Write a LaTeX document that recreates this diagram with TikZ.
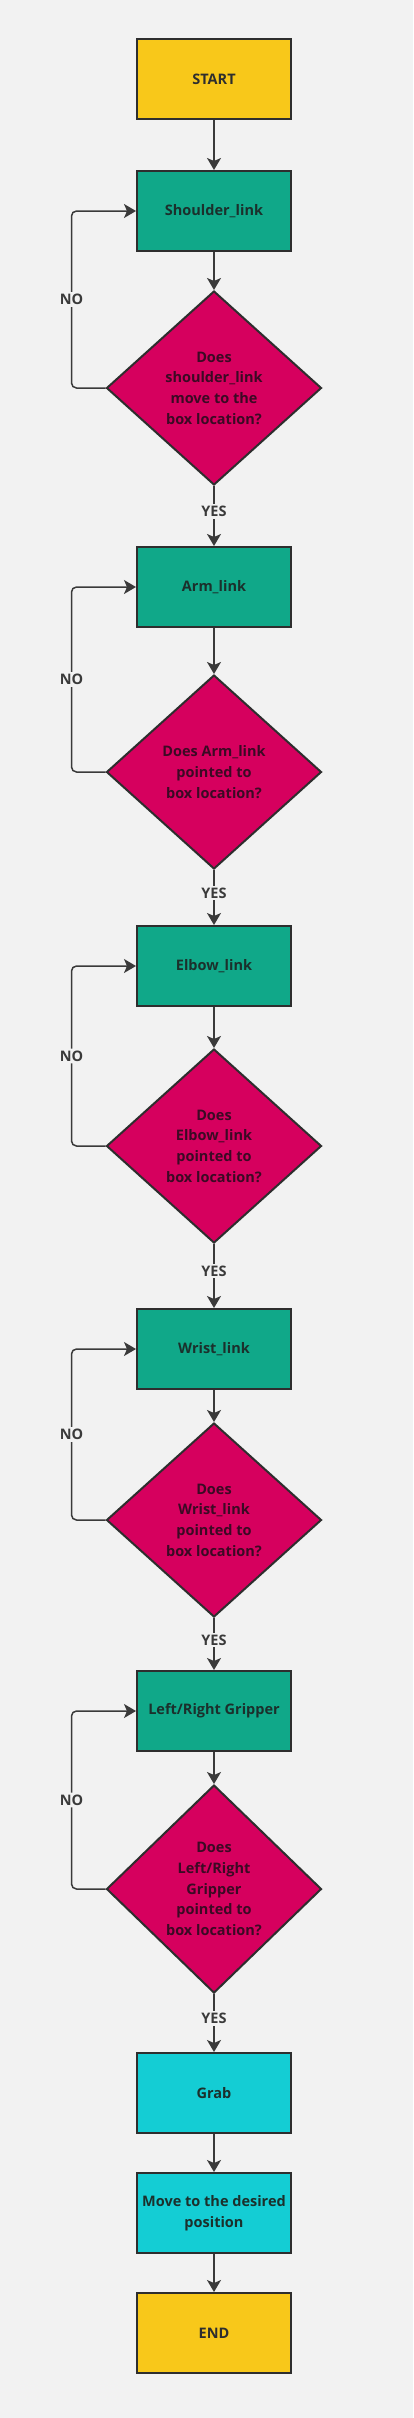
\documentclass[tikz,border=0pt]{standalone}
\usepackage{fontspec}
\setmainfont{Open Sans}
\usetikzlibrary{shapes.geometric,arrows.meta}
\definecolor{bgcol}{HTML}{F2F2F2}
\definecolor{edgecol}{HTML}{2E2E2E}
\definecolor{wirecol}{HTML}{3A3A3A}
\definecolor{termcol}{HTML}{F8C81A}
\definecolor{linkcol}{HTML}{10A889}
\definecolor{actcol}{HTML}{14CDD4}
\definecolor{testcol}{HTML}{D6005E}
\definecolor{testtxt}{HTML}{3B0A24}
\definecolor{linktxt}{HTML}{1B302C}
\begin{document}
\begin{tikzpicture}[x=1pt,y=-1pt,
  base/.style={draw=edgecol,line width=2pt,align=center,inner sep=0pt,
    font=\fontsize{14.5pt}{20.7pt}\selectfont\bfseries},
  term/.style={base,fill=termcol,text=edgecol,minimum width=154pt,minimum height=80pt},
  link/.style={base,fill=linkcol,text=linktxt,minimum width=154pt,minimum height=80pt},
  act/.style={base,fill=actcol,text=linktxt,minimum width=154pt,minimum height=80pt},
  test/.style={base,diamond,fill=testcol,text=testtxt,minimum width=215pt,minimum height=194pt},
  flow/.style={draw=wirecol,line width=1.5pt,-{Stealth[length=12pt,width=14pt,inset=3pt]}},
  lbl/.style={fill=bgcol,text=wirecol,inner sep=2pt,
    font=\fontsize{14.5pt}{17pt}\selectfont\bfseries}]
% canvas
\fill[bgcol] (0,0) rectangle (413,2418);
\useasboundingbox (0,0) rectangle (413,2418);
% steps
\node[term] (start) at (214,79) {START};
\node[link] (shoulder) at (214,211) {Shoulder\_link};
\node[test] (q1) at (214,388) {Does\\shoulder\_link\\move to the\\box location?};
\node[link] (arm) at (214,587) {Arm\_link};
\node[test] (q2) at (214,772) {Does Arm\_link\\pointed to\\box location?};
\node[link] (elbow) at (214,966) {Elbow\_link};
\node[test] (q3) at (214,1146) {Does\\Elbow\_link\\pointed to\\box location?};
\node[link] (wrist) at (214,1349) {Wrist\_link};
\node[test] (q4) at (214,1520) {Does\\Wrist\_link\\pointed to\\box location?};
\node[link] (grip) at (214,1711) {Left/Right Gripper};
\node[test,minimum height=208pt] (q5) at (214,1889) {Does\\Left/Right\\Gripper\\pointed to\\box location?};
\node[act] (grab) at (214,2093) {Grab};
\node[act] (move) at (214,2213) {Move to the desired\\position};
\node[term] (end) at (214,2333) {END};
% main line
\draw[flow] (start) -- (shoulder);
\draw[flow] (shoulder) -- (q1);
\draw[flow] (q1) -- node[lbl,pos=0.42]{YES} (arm);
\draw[flow] (arm) -- (q2);
\draw[flow] (q2) -- node[lbl,pos=0.42]{YES} (elbow);
\draw[flow] (elbow) -- (q3);
\draw[flow] (q3) -- node[lbl,pos=0.42]{YES} (wrist);
\draw[flow] (wrist) -- (q4);
\draw[flow] (q4) -- node[lbl,pos=0.42]{YES} (grip);
\draw[flow] (grip) -- (q5);
\draw[flow] (q5) -- node[lbl,pos=0.42]{YES} (grab);
\draw[flow] (grab) -- (move);
\draw[flow] (move) -- (end);
% retry loops
\foreach \q/\s in {q1/shoulder,q2/arm,q3/elbow,q4/wrist,q5/grip}
  \draw[flow,rounded corners=5pt] (\q.west) -- ++(-34,0)
    |- node[lbl,pos=0.25]{NO} (\s.west);
\end{tikzpicture}
\end{document}
